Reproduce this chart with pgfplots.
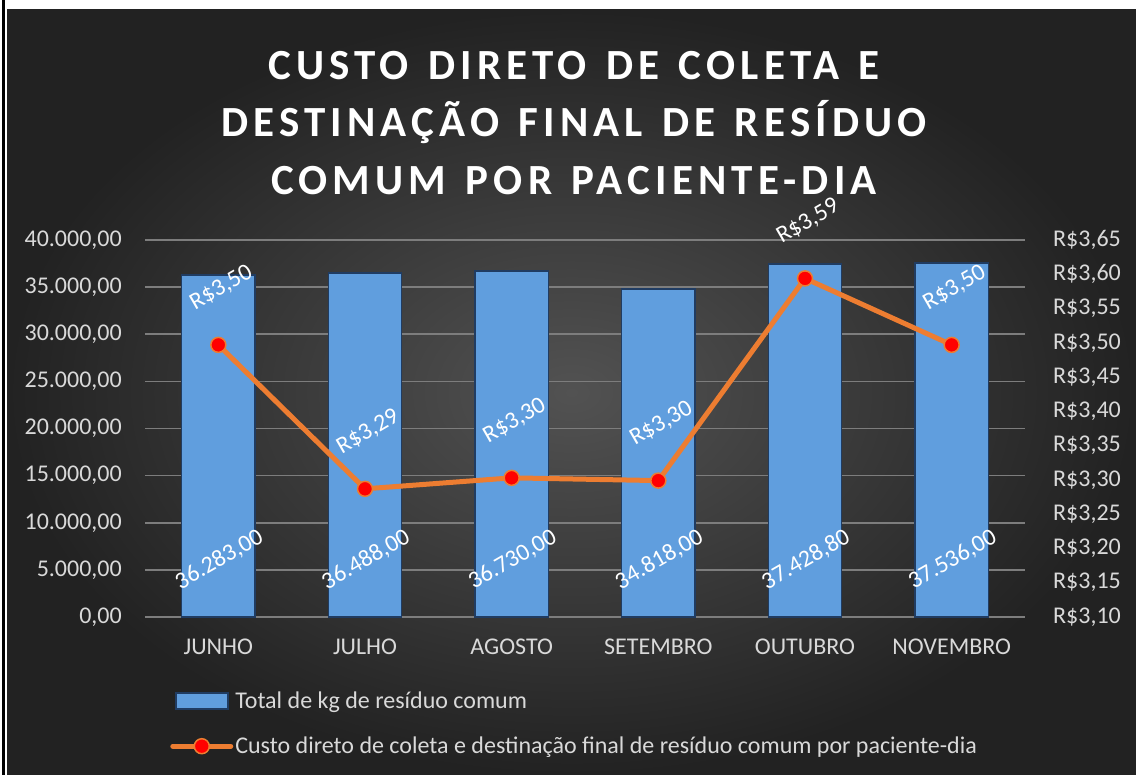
\documentclass[border=0pt]{standalone}
\usepackage{pgfplots}
\pgfplotsset{compat=1.18}
\usepackage{fontspec}
\setmainfont{Carlito}
\newfontfamily\titlefont[LetterSpace=12, WordSpace=1.3]{Carlito}
\definecolor{bgin}{RGB}{82,82,82}
\definecolor{bgout}{RGB}{34,34,34}
\definecolor{gridc}{RGB}{125,125,125}
\definecolor{labc}{RGB}{217,217,217}
\definecolor{barmid}{RGB}{96,158,222}
\definecolor{baredge}{RGB}{32,60,98}
\definecolor{lineor}{RGB}{237,125,49}
\newcommand{\tickfont}{\fontsize{24}{28}\selectfont}
\pgfplotsset{
  barstyle/.style={fill=barmid, draw=baredge, line width=1.5pt},
  linelegend/.style={legend image code/.code={\draw[line cap=round,##1, mark=none] (0pt,0pt) -- (58pt,0pt); \draw[##1] plot coordinates {(29pt,0pt)};}},
  barlegend/.style={legend image code/.code={\fill[barmid] (3pt,-8pt) rectangle (55pt,8pt); \draw[baredge, line width=1.5pt] (3pt,-8pt) rectangle (55pt,8pt);}},
}
\begin{document}
\begin{tikzpicture}
\fill[white] (0pt,0pt) rectangle (1136pt,-775pt);
\fill[black] (2pt,0pt) rectangle (5pt,-775pt);
\shade[inner color=bgin, outer color=bgout] (7pt,-10pt) rectangle (1136pt,-775pt);
% title
\node[text=white, align=center, font=\titlefont\bfseries\fontsize{43}{57.5}\selectfont] at (574pt,-123pt) {CUSTO DIRETO DE COLETA E\\DESTINAÇÃO FINAL DE RESÍDUO\\COMUM POR PACIENTE-DIA};

\begin{axis}[
  at={(145pt,-617pt)}, anchor=south west,
  scale only axis, width=880pt, height=377pt,
  xmin=-0.5, xmax=5.5, ymin=0, ymax=40000,
  ytick={0,5000,10000,15000,20000,25000,30000,35000,40000},
  xtick={0,1,2,3,4,5},
  xticklabels={JUNHO,JULHO,AGOSTO,SETEMBRO,OUTUBRO,NOVEMBRO},
  axis line style={draw=none}, major tick length=0pt,
  ymajorgrids, grid style={line width=1.6pt, color=gridc},
  scaled y ticks=false,
  /pgf/number format/assume math mode=true,
  yticklabel style={/pgf/number format/fixed, /pgf/number format/fixed zerofill, /pgf/number format/precision=2, /pgf/number format/use comma, font=\tickfont, text=labc, inner sep=0pt, anchor=east, xshift=-23pt},
  xticklabel style={font=\tickfont, text=labc, inner sep=0pt, anchor=north, yshift=-22pt},
  clip=false,
]
\addplot[ybar, bar width=0.5, barstyle] coordinates {(0,36283) (1,36488) (2,36730) (3,34818) (4,37428.8) (5,37536)};
\addplot[draw=none, mark=none, point meta=explicit,
  nodes near coords={\pgfmathprintnumber[fixed,fixed zerofill,precision=2,use comma,assume math mode=true]{\pgfplotspointmeta}},
  every node near coord/.style={anchor=center, xshift=1pt, rotate=30, text=white, font=\tickfont, inner sep=0pt}]
  table[meta=v] {
x y v
0 6050 36283
1 6050 36488
2 6050 36730
3 6050 34818
4 6050 37428.8
5 6050 37536
};
\end{axis}

\begin{axis}[
  at={(145pt,-617pt)}, anchor=south west,
  scale only axis, width=880pt, height=377pt,
  xmin=-0.5, xmax=5.5, ymin=3.10, ymax=3.65,
  ytick={3.10,3.15,3.20,3.25,3.30,3.35,3.40,3.45,3.50,3.55,3.60,3.65},
  xtick=\empty,
  yticklabel pos=right,
  axis line style={draw=none}, major tick length=0pt,
  scaled y ticks=false,
  yticklabel={R\$\pgfmathprintnumber[fixed,fixed zerofill,precision=2,use comma,assume math mode=true]{\tick}},
  yticklabel style={font=\tickfont, text=labc, inner sep=0pt, anchor=west, xshift=28pt},
  clip=false,
  legend style={at={(0.0285,-0.193)}, anchor=north west, draw=none, fill=none, text=labc, font=\tickfont, row sep=23pt, inner sep=0pt},
  legend cell align=left,
]
\addlegendimage{barlegend}
\addplot[color=lineor, line width=5pt, mark=*, mark size=7.5pt,
  mark options={fill=red, draw=lineor, line width=1.5pt},
  point meta=y,
  nodes near coords={R\$\pgfmathprintnumber[fixed,fixed zerofill,precision=2,use comma,assume math mode=true]{\pgfplotspointmeta}},
  every node near coord/.style={anchor=center, xshift=3pt, yshift=57pt, rotate=30, text=white, font=\tickfont, inner sep=0pt},
  linelegend
  ] coordinates {(0,3.497) (1,3.287) (2,3.303) (3,3.299) (4,3.594) (5,3.497)};
\legend{Total de kg de resíduo comum, Custo direto de coleta e destinação final de resíduo comum por paciente-dia}
\end{axis}
\end{tikzpicture}
\end{document}
